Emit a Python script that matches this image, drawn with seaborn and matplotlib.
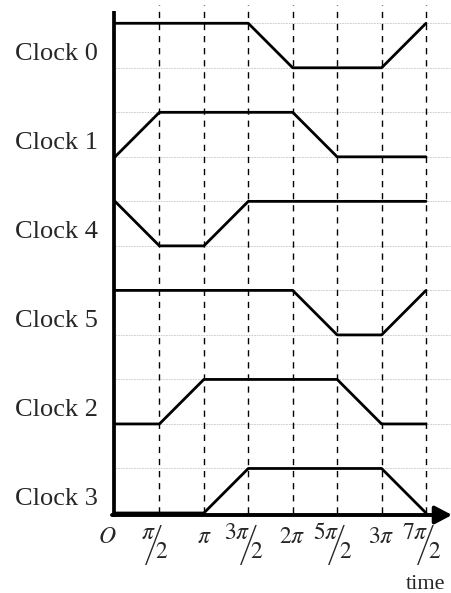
import matplotlib
matplotlib.use("Agg")
import matplotlib.pyplot as plt
import numpy as np
import pandas as pd
import seaborn as sns

# Clock rows, top to bottom
clocks = ["Clock 0", "Clock 1", "Clock 4", "Clock 5", "Clock 2", "Clock 3"]
# Time instants, in multiples of pi/2
steps = [0, 1, 2, 3, 4, 5, 6, 7]
tick_labels = ["O", "π/2", "π", "3π/2", "2π", "5π/2", "3π", "7π/2"]
# Normalised clock level (0 = low, 1 = high) at each time instant
clock0 = [1, 1, 1, 1, 0, 0, 0, 1]
clock1 = [0, 1, 1, 1, 1, 0, 0, 0]
clock4 = [1, 0, 0, 1, 1, 1, 1, 1]
clock5 = [1, 1, 1, 1, 1, 0, 0, 1]
clock2 = [0, 0, 1, 1, 1, 1, 0, 0]
clock3 = [0, 0, 0, 1, 1, 1, 1, 0]
levels = [clock0, clock1, clock4, clock5, clock2, clock3]

sns.set_style("white")
plt.rcParams["font.family"] = ["Liberation Serif", "DejaVu Serif"]
plt.rcParams["mathtext.fontset"] = "stix"

W, H = 452, 593
fig = plt.figure(figsize=(W / 100, H / 100), dpi=100)
ax = fig.add_axes([0, 0, 1, 1])
ax.axis("off")

# pixel geometry of the drawing area
X0, DX = 115.0, 44.43   # x pixel of t=0, pixels per pi/2
Y0, DY = 513.0, 44.52   # y pixel of level 0, pixels per level unit


def px_x(px):
    return (px - X0) / DX


def px_y(py):
    return (Y0 - py) / DY


ax.set_xlim(px_x(0), px_x(W))
ax.set_ylim(px_y(H), px_y(0))

n = len(clocks)
rows = []
for i, (name, lv) in enumerate(zip(clocks, levels)):
    base = 2 * (n - 1 - i)
    for t, v in zip(steps, lv):
        rows.append({"clock": name, "t": t, "y": base + v})
df = pd.DataFrame(rows)

# faint reference lines at every high / low level
for i in range(n):
    base = 2 * (n - 1 - i)
    for yl in (base, base + 1):
        ax.plot([0, px_x(W)], [yl, yl], color="#c4c4c4", lw=0.6,
                ls=(0, (2.0, 1.2)), zorder=1)

# vertical phase markers
for t in steps[1:]:
    ax.plot([t, t], [0, px_y(5)], color="black", lw=1.0,
            ls=(0, (4.5, 4.2)), zorder=2)

# waveforms
sns.lineplot(data=df, x="t", y="y", units="clock", estimator=None,
             color="black", lw=2.0, sort=True, legend=False, ax=ax, zorder=4)
ax.set_xlabel("")
ax.set_ylabel("")
ax.axis("off")

# axes with arrow on time axis
ax.plot([px_x(114), px_x(114)], [px_y(517), px_y(11)], color="black",
        lw=2.7, solid_capstyle="butt", zorder=5)
ax.annotate("", xy=(px_x(452), px_y(515)), xytext=(px_x(112), px_y(515)),
            arrowprops=dict(arrowstyle="-|>,head_length=0.85,head_width=0.45",
                            lw=2.8, color="black", shrinkA=0, shrinkB=0,
                            mutation_scale=12),
            zorder=5)

# clock names
for i, name in enumerate(clocks):
    base = 2 * (n - 1 - i)
    ax.text(px_x(98), base + 0.17, name, ha="right", va="baseline",
            fontsize=19, zorder=6)

# tick labels
fs = 17
for t, lab in zip(steps, tick_labels):
    if lab == "O":
        ax.text(px_x(107), px_y(543), r"$O$", ha="center", va="baseline",
                fontsize=fs)
        continue
    if "/" in lab:
        num, den = lab.split("/")
        num_tex = "$" + num.replace("π", r"\pi") + "$"
        shift = 0 if len(num) > 1 else -6
        xs = t + shift / DX
        ax.text(xs + 2 / DX, px_y(539), num_tex, ha="right", va="baseline",
                fontsize=fs)
        ax.text(xs, px_y(562), "/", ha="center", va="baseline",
                fontsize=37, family="Roboto", fontweight="light")
        ax.text(xs + 2 / DX, px_y(558), "$" + den + "$", ha="left",
                va="baseline", fontsize=fs)
    else:
        tex = "$" + lab.replace("π", r"\pi") + "$"
        ax.text(t, px_y(543), tex, ha="center", va="baseline", fontsize=fs)

ax.text(px_x(445), px_y(589), "time", ha="right", va="baseline", fontsize=16)

fig.savefig("out.png", dpi=100)
